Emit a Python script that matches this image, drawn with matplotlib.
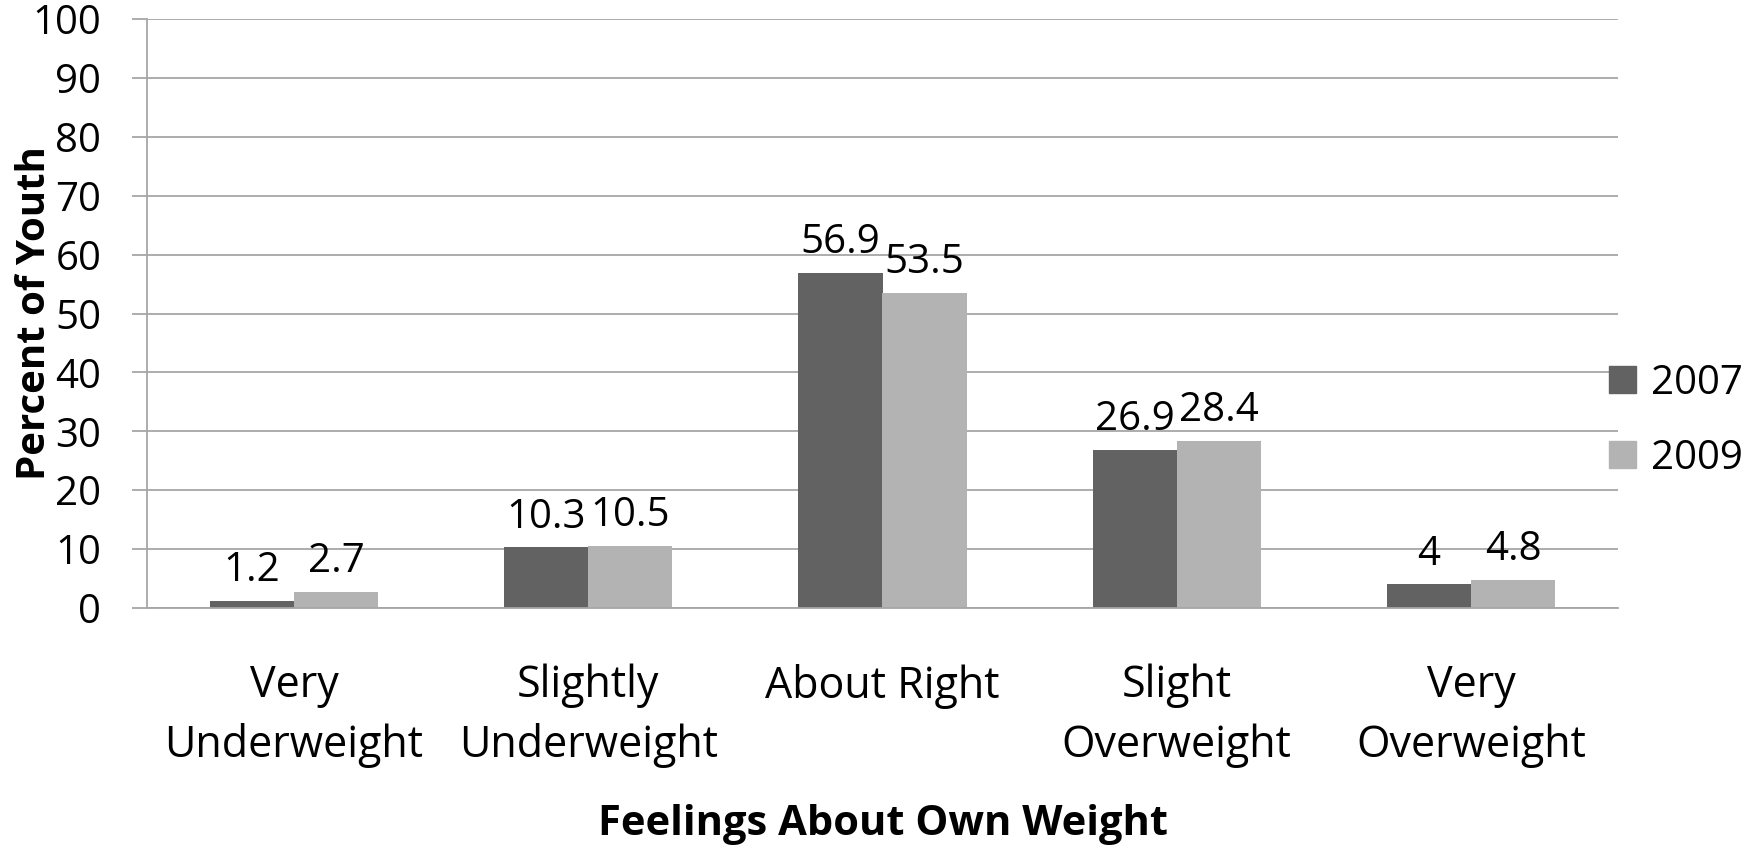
import numpy as np
import matplotlib.pyplot as plt
from matplotlib.patches import Patch

plt.rcParams['font.family'] = ['Open Sans', 'DejaVu Sans']

categories = ['Very\nUnderweight', 'Slightly\nUnderweight', 'About Right',
              'Slight\nOverweight', 'Very\nOverweight']
vals_2007 = [1.2, 10.3, 56.9, 26.9, 4]
vals_2009 = [2.7, 10.5, 53.5, 28.4, 4.8]
labels_2007 = ['1.2', '10.3', '56.9', '26.9', '4']
labels_2009 = ['2.7', '10.5', '53.5', '28.4', '4.8']

W, H = 1761, 848
fig = plt.figure(figsize=(W / 100, H / 100), dpi=100)
ax = fig.add_axes([147 / W, (H - 608) / H, (1618 - 147) / W, (608 - 19) / H])

dark = '#626262'
light = '#b3b3b3'
grid_c = '#a6a6a6'

x = np.arange(len(categories))
bw = 0.286
b1 = ax.bar(x - bw / 2, vals_2007, bw, color=dark, zorder=2)
b2 = ax.bar(x + bw / 2, vals_2009, bw, color=light, zorder=2)

for bars, labs in ((b1, labels_2007), (b2, labels_2009)):
    for r, lab in zip(bars, labs):
        ax.annotate(lab, (r.get_x() + r.get_width() / 2, r.get_height()),
                    xytext=(0, 7), textcoords='offset points',
                    ha='center', va='bottom', fontsize=29)

ax.set_xlim(-0.5, len(categories) - 0.5)
ax.set_ylim(0, 100)
ax.set_yticks(np.arange(0, 101, 10))
ax.yaxis.grid(True, color=grid_c, linewidth=1.3, zorder=0)
ax.set_axisbelow(True)

for s in ['top', 'right']:
    ax.spines[s].set_visible(False)
ax.spines['left'].set_color(grid_c)
ax.spines['bottom'].set_color(grid_c)
ax.spines['left'].set_linewidth(1.3)
ax.spines['bottom'].set_linewidth(1.3)

ax.tick_params(axis='y', length=11, width=1.3, color=grid_c, pad=22, labelsize=29)
ax.tick_params(axis='x', length=0, pad=40, labelsize=31)
ax.set_xticks(x)
ax.set_xticklabels(categories, linespacing=1.45)

ax.set_xlabel('Feelings About Own Weight', fontsize=30, fontweight='bold', labelpad=26)
ax.set_ylabel('Percent of Youth', fontsize=29, fontweight='bold')
ax.yaxis.set_label_coords(-0.063, 0.5)

handles = [Patch(color=dark), Patch(color=light)]
fig.legend(handles, ['2007', '2009'], loc='center left',
           bbox_to_anchor=(1609 / W, 1 - 421 / H), frameon=False,
           fontsize=29, handlelength=0.67, handleheight=0.67,
           handletextpad=0.38, labelspacing=0.85, borderpad=0,
           borderaxespad=0)

fig.savefig('out.png', dpi=100)
